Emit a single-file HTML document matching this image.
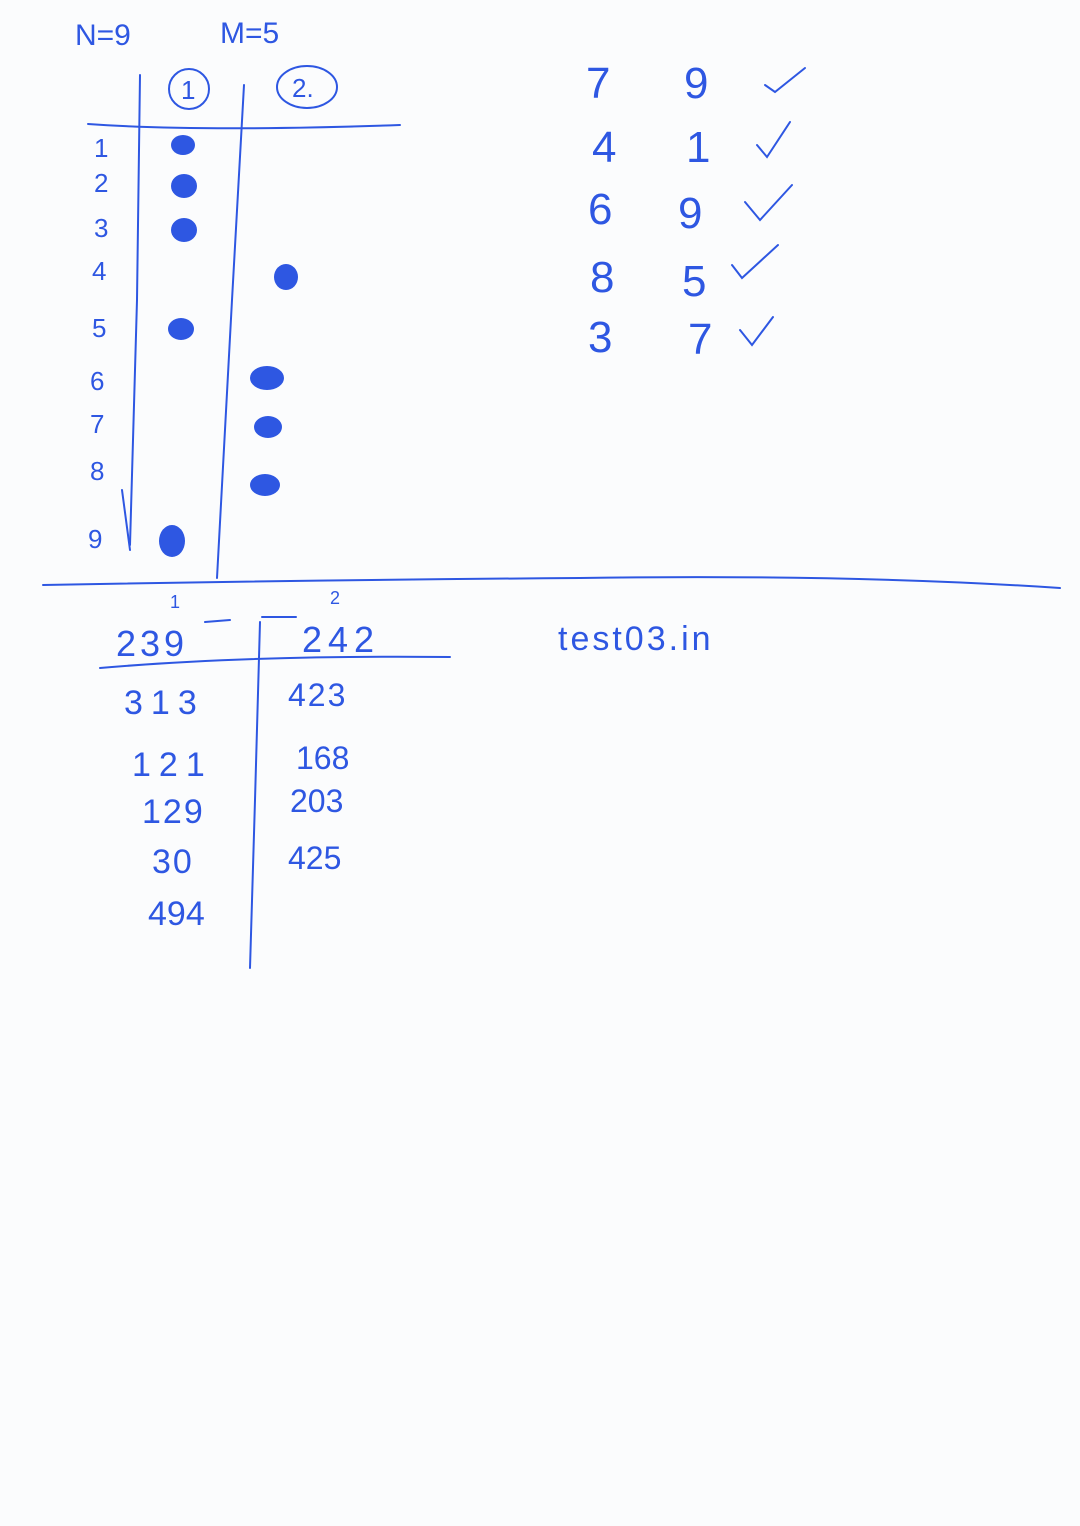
<!DOCTYPE html>
<html><head><meta charset="utf-8"><style>
html,body{margin:0;padding:0;background:#fbfcfd;}
svg{display:block;}
text{font-family:"Liberation Sans",sans-serif;fill:#2e57e2;font-weight:300;}
.ln{stroke:#2e57e2;stroke-width:2;fill:none;stroke-linecap:round;}
.dot{fill:#2e57e2;}
</style></head><body>
<svg width="1080" height="1526" viewBox="0 0 1080 1526">
<rect width="1080" height="1526" fill="#fbfcfd"/>
<text x="75" y="45" font-size="30">N=9</text>
<text x="220" y="43" font-size="30">M=5</text>
<circle class="ln" cx="189" cy="89" r="20"/>
<text x="181" y="99" font-size="26">1</text>
<ellipse class="ln" cx="307" cy="87" rx="30" ry="21"/>
<text x="292" y="97" font-size="26">2.</text>
<path class="ln" d="M140 75 L137 300 L130 545"/>
<path class="ln" d="M244 85 L232 300 L217 578"/>
<path class="ln" d="M122 490 L130 550"/>
<path class="ln" d="M88 124 Q200 132 400 125"/>
<g font-size="26">
<text x="94" y="157">1</text><text x="94" y="192">2</text><text x="94" y="237">3</text>
<text x="92" y="280">4</text><text x="92" y="337">5</text><text x="90" y="390">6</text>
<text x="90" y="433">7</text><text x="90" y="480">8</text><text x="88" y="548">9</text>
</g>
<g>
<ellipse class="dot" cx="183" cy="145" rx="12" ry="10"/>
<ellipse class="dot" cx="184" cy="186" rx="13" ry="12"/>
<ellipse class="dot" cx="184" cy="230" rx="13" ry="12"/>
<ellipse class="dot" cx="181" cy="329" rx="13" ry="11"/>
<ellipse class="dot" cx="172" cy="541" rx="13" ry="16"/>
<ellipse class="dot" cx="286" cy="277" rx="12" ry="13"/>
<ellipse class="dot" cx="267" cy="378" rx="17" ry="12"/>
<ellipse class="dot" cx="268" cy="427" rx="14" ry="11"/>
<ellipse class="dot" cx="265" cy="485" rx="15" ry="11"/>
</g>
<g font-size="44">
<text x="586" y="98">7</text><text x="684" y="98">9</text>
<text x="592" y="162">4</text><text x="686" y="162">1</text>
<text x="588" y="224">6</text><text x="678" y="228">9</text>
<text x="590" y="292">8</text><text x="682" y="296">5</text>
<text x="588" y="352">3</text><text x="688" y="354">7</text>
</g>
<g class="ln">
<path d="M765 85 L775 92 L805 68"/>
<path d="M757 145 L767 157 L790 122"/>
<path d="M745 202 L760 220 L792 185"/>
<path d="M732 265 L742 278 L778 245"/>
<path d="M740 330 L752 345 L773 317"/>
</g>
<path class="ln" d="M43 585 Q300 580 580 578 Q850 574 1060 588"/>
<text x="170" y="608" font-size="18">1</text>
<text x="330" y="604" font-size="18">2</text>
<text x="116" y="656" font-size="36" letter-spacing="4">239</text>
<text x="302" y="652" font-size="36" letter-spacing="6">242</text>
<path class="ln" d="M205 622 L230 620 M262 617 L296 617"/>
<path class="ln" d="M100 668 Q250 655 450 657"/>
<path class="ln" d="M260 622 L255 800 L250 968"/>
<g font-size="34">
<text x="124" y="714" letter-spacing="8">313</text>
<text x="132" y="776" letter-spacing="8">121</text>
<text x="142" y="823" letter-spacing="2">129</text>
<text x="152" y="873" letter-spacing="2">30</text>
<text x="148" y="925">494</text>
</g>
<g font-size="32">
<text x="288" y="706" letter-spacing="2">423</text>
<text x="296" y="769">168</text>
<text x="290" y="812">203</text>
<text x="288" y="869">425</text>
</g>
<text x="558" y="650" font-size="34" letter-spacing="3">test03.in</text>
</svg>
</body></html>
